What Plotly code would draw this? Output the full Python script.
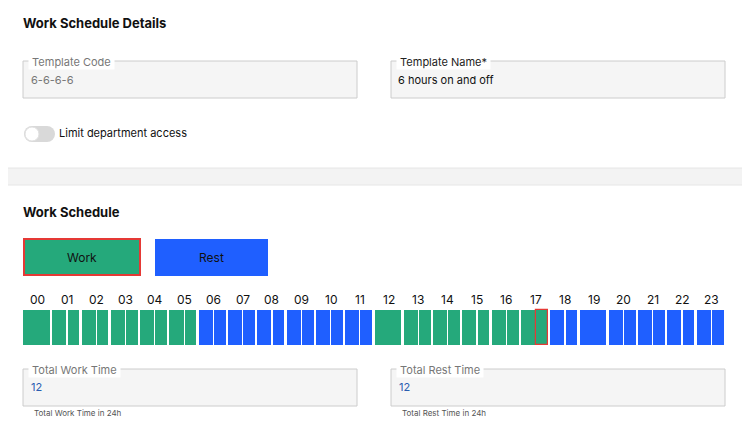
import plotly.graph_objects as go

# Schedule data: one entry per half hour (48 slots), W = work, R = rest
hour_labels = [f"{h:02d}" for h in range(24)]
slot_state = (["W"] * 12 + ["R"] * 12) * 2
# hours drawn as one solid block (no split line)
merged_hours = [0, 12, 19]
selected_slot = 35
total_work = "12"
total_rest = "12"

GREEN = "#25a97b"
BLUE = "#1f5fff"
X0, X1 = 23, 726
hour_w = (X1 - X0) / 24
half_w = hour_w / 2
OFF = 8  # rendering offset of the page

xs, ws, cols, lcol, lw = [], [], [], [], []
for i, s in enumerate(slot_state):
    h = i // 2
    c = GREEN if s == "W" else BLUE
    left = X0 + h * hour_w + (i % 2) * half_w
    if h in merged_hours:
        if i % 2 == 1:
            continue
        xs.append(X0 + h * hour_w + hour_w / 2 - 1.2)
        ws.append(hour_w - 2.4)
    else:
        gap_l = 0.6 if i % 2 == 1 else 0
        gap_r = 0.6 if i % 2 == 0 else 2.4
        xs.append(left + gap_l + (half_w - gap_l - gap_r) / 2)
        ws.append(half_w - gap_l - gap_r)
    cols.append(c)
    lcol.append("#e53935" if i == selected_slot else c)
    lw.append(1.2 if i == selected_slot else 0)

fig = go.Figure()
fig.add_trace(go.Bar(x=xs, y=[35] * len(xs), base=310, width=ws,
                     marker=dict(color=cols, line=dict(color=lcol, width=lw)),
                     hoverinfo="skip", showlegend=False))

shapes = []
annos = []


def rect(x0, y0, x1, y1, fill, line="rgba(0,0,0,0)", lw_=1):
    shapes.append(dict(type="rect", x0=x0, y0=y0, x1=x1, y1=y1, fillcolor=fill,
                       line=dict(color=line, width=lw_), layer="below"))


def text(x, y, t, size=11, color="#111", xanchor="left", bold=False, bg=None):
    if bold:
        t = f"<b>{t}</b>"
    annos.append(dict(x=x, y=y, text=t, showarrow=False, xanchor=xanchor,
                      yanchor="middle", font=dict(size=size, color=color),
                      bgcolor=bg, borderpad=0))


# cards
rect(-10, -10, 748, 168, "white", "#e6e6e6")
rect(0, 185, 748, 460, "white", "#e6e6e6")
text(22, 23, "Work Schedule Details", 13, "#111", bold=True)

# inputs
rect(23, 61, 357, 98, "#f5f5f5", "#cccccc")
text(28, 62, " Template Code ", 11, "#777", bg="white")
text(30, 80, "6-6-6-6", 11, "#777")
rect(391, 61, 725, 98, "#f5f5f5", "#cccccc")
text(396, 62, " Template Name* ", 11, "#222", bg="white")
text(397, 80, "6 hours on and off", 11, "#111")

# toggle
for cx in (32, 47):
    shapes.append(dict(type="circle", x0=cx - 8, y0=126, x1=cx + 8, y1=142,
                       fillcolor="#d9d9d9", line=dict(width=0)))
shapes.append(dict(type="rect", x0=32, y0=126, x1=47, y1=142, fillcolor="#d9d9d9",
                   line=dict(width=0)))
shapes.append(dict(type="circle", x0=25, y0=127, x1=39, y1=141, fillcolor="white",
                   line=dict(color="#e0e0e0", width=1)))
text(58, 133, "Limit department access", 11, "#111")

text(22, 212, "Work Schedule", 13, "#111", bold=True)
rect(24, 239, 140, 275, GREEN, "#e53935", 2)
text(82, 257, "Work", 12, "#111", xanchor="center")
rect(155, 239, 268, 276, BLUE)
text(211, 257, "Rest", 12, "#111", xanchor="center")

for h, lab in enumerate(hour_labels):
    text(X0 + h * hour_w + hour_w / 2, 299, lab, 12, "#111", xanchor="center")

# totals
for x0, lab, val, helper in [(23, "Total Work Time", total_work, "Total Work Time in 24h"),
                             (391, "Total Rest Time", total_rest, "Total Rest Time in 24h")]:
    rect(x0, 369, x0 + 334, 406, "#f5f5f5", "#cccccc")
    text(x0 + 5, 370, f" {lab} ", 11, "#777", bg="white")
    text(x0 + 7, 387, val, 11, "#2a5db0")
    text(x0 + 10, 413, helper, 8, "#555")

fig.update_layout(
    width=750, height=446, margin=dict(l=0, r=0, t=0, b=0),
    paper_bgcolor="#f3f3f3", plot_bgcolor="#f3f3f3",
    font=dict(family="Inter, Roboto, sans-serif"),
    xaxis=dict(range=[OFF, 750 + OFF], visible=False, fixedrange=True),
    yaxis=dict(range=[446 + OFF, OFF], visible=False, fixedrange=True),
    shapes=shapes, annotations=annos, bargap=0,
)
fig.write_html("out.html", config={"displayModeBar": False})
